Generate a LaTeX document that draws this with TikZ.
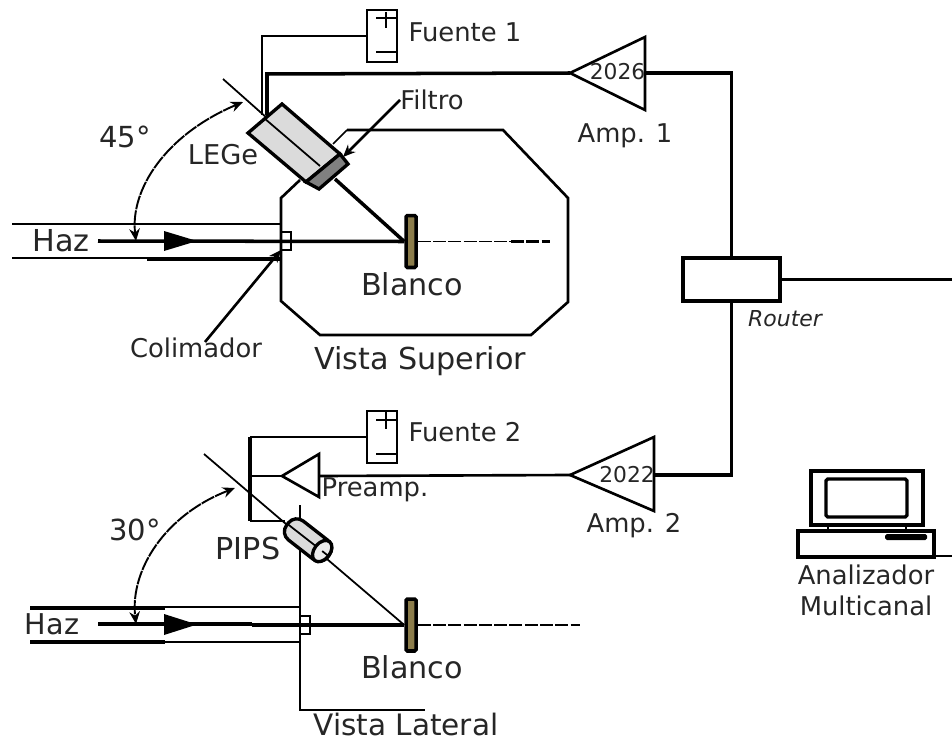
\documentclass[tikz,border=0pt]{standalone}
\usepackage{fontspec}
\setmainfont{DejaVu Sans}
\usetikzlibrary{arrows.meta}
\tikzset{
    thinwire/.style={line width=1pt},
    wire/.style={line width=1.5pt},
    thickwire/.style={line width=2pt},
    lbl/.style={inner sep=0pt,text=black!85,font=\fontsize{14.7}{17}\selectfont},
    biglbl/.style={inner sep=0pt,text=black!85,font=\fontsize{17.2}{20}\selectfont},
    fuentebox/.style={draw,line width=1.3pt,minimum width=0.6cm,minimum height=1.04cm,inner sep=0pt},
    blancobox/.style={draw,line width=2pt,rounded corners=0.8pt,fill=blancocolor,minimum width=0.2cm,minimum height=1.04cm,inner sep=0pt},
    colbox/.style={draw,line width=0.9pt,minimum width=0.2cm,minimum height=0.36cm,inner sep=0pt},
    dashwire/.style={line width=1.1pt,dash pattern=on 7.4pt off 1.3pt},
    anglearrow/.style={<->,line width=1.1pt,dash pattern=on 8pt off 0.6pt}
}
\definecolor{blancocolor}{RGB}{140,125,75}
\begin{document}
\begin{tikzpicture}[x=0.02cm,y=-0.02cm,>={Stealth[length=7pt,width=6pt]}]
    \useasboundingbox (0,0) rectangle (952,740);
    % vista superior
    \draw[wire] (347,130) -- (503,130) -- (568,198) -- (568,302) -- (531,335) -- (320,335) -- (281,301) -- (281,198) -- (300,180);
    \draw[thinwire] (347,130) -- (333,144);
    \draw[wire] (12,224) -- (281,224);
    \draw[wire] (12,258) -- (147,258);
    \draw[thickwire] (147,259) -- (281,259);
    \node[colbox] (col1) at (286,241) {};
    \node[blancobox] (blanco1) at (411,241.5) {};
    \draw[thickwire] (98,241) -- (blanco1.west);
    \fill (164,231) -- (197,241) -- (164,251) -- cycle;
    \draw[dashwire] (blanco1.east) -- (511,241.5);
    \draw[dashwire,line width=1.8pt] (511,241.5) -- (550,241.5);
    \draw[thinwire] (223,79) -- (320,165);
    \draw[thickwire] (335,179) -- (blanco1.west);
    % detector LEGe
    \draw[line width=1.9pt,fill=black!14] (282,104) -- (340,154) -- (306,182) -- (248,133) -- cycle;
    \draw[thinwire] (264,118) -- (320,166);
    \draw[line width=1.9pt,fill=black!50] (340,154) -- (348,164) -- (319,189) -- (306,182) -- cycle;
    % fuente 1 y amp 1
    \node[fuentebox] (fuente1) at (382,36) {};
    \draw[wire] (376,18) -- (396,18) (386,12) -- (386,28);
    \draw[wire] (376,52) -- (396,52);
    \draw[wire] (fuente1.west) -- (262,36) -- (262,115);
    \coordinate (amp1tip) at (570,73);
    \coordinate (amp1end) at (645,73);
    \draw[wire] (amp1tip) -- (645,37) -- (645,110) -- cycle;
    \draw[thickwire] (267,115) -- (267,74) -- (amp1tip);
    \node[lbl,font=\fontsize{12.4}{14}\selectfont] (cod1) at (617.5,72) {2026};
    % router
    \node[draw,line width=2.2pt,minimum width=1.94cm,minimum height=0.86cm,inner sep=0pt] (router) at (731.5,279.5) {};
    \draw[thickwire] (amp1end) -- (731.5,73) -- (router.north);
    \draw[wire] (router.east) -- (952,279.5);
    \node[lbl,font=\itshape\fontsize{12.5}{15}\selectfont] (routerlbl) at (785,319) {Router};
    % vista lateral
    \coordinate (amp2tip) at (570,475);
    \coordinate (amp2end) at (654,475);
    \draw[wire] (amp2tip) -- (654,437) -- (654,511) -- cycle;
    \draw[thickwire] (router.south) -- (731.5,475) -- (amp2end);
    \node[lbl,font=\fontsize{12.4}{14}\selectfont] (cod2) at (627,475) {2022};
    \coordinate (preamptip) at (282,476);
    \draw[wire] (319,454) -- (282,476) -- (319,497) -- cycle;
    \draw[wire] (amp2tip) -- (319,476);
    \node[fuentebox] (fuente2) at (382,437) {};
    \draw[wire] (376,420) -- (396,420) (386,412) -- (386,429);
    \draw[wire] (376,454) -- (396,454);
    \draw[wire] (fuente2.west) -- (250,437);
    \draw[thickwire] (250,437) -- (250,521);
    \draw[wire] (preamptip) -- (250,476);
    \draw[wire] (250,521) -- (285,521);
    \draw[wire] (300,505) -- (300,710) -- (425,710);
    \draw[wire] (30,607) -- (300,607);
    \draw[thickwire] (30,608) -- (165,608);
    \draw[wire] (165,642) -- (300,642);
    \draw[thickwire] (30,642) -- (165,642);
    \node[colbox] (col2) at (305,625) {};
    \node[blancobox] (blanco2) at (411,625) {};
    \draw[thickwire] (98,624) -- (252,624);
    \draw[thickwire] (252,625) -- (blanco2.west);
    \fill (164,614) -- (197,624.5) -- (164,635) -- cycle;
    \draw[dashwire] (blanco2.east) -- (580,625);
    \draw[thinwire] (204,454) -- (blanco2.west);
    % detector PIPS
    \begin{scope}[shift={(308,540)},rotate=-38]
        \draw[line width=1.9pt,fill=black!14,rounded corners=6pt] (-26,-12) rectangle (26,12);
        \draw[thinwire] (-26,0) -- (20,0);
        \draw[line width=1.9pt,fill=black!8] (18,0) ellipse (8 and 12);
        \draw[thinwire] (18,0) -- (26,0);
    \end{scope}
    % analizador
    \draw[line width=1.9pt] (811,471) rectangle (923,525);
    \draw[line width=1.9pt,rounded corners=1pt] (826,479) rectangle (907,517);
    \draw[wire] (828,525) -- (828,531) (906,525) -- (906,531);
    \draw[line width=1.9pt] (798,531) rectangle (934,557);
    \fill[rounded corners=1pt] (885,534) rectangle (927,540);
    \draw[thinwire] (934,556) -- (952,556);
    % angulos
    \draw[anglearrow] (243,102) .. controls (165,135) and (130,190) .. (136,241);
    \draw[anglearrow] (235,488) .. controls (165,515) and (130,570) .. (136,624);
    % flechas de etiquetas
    \node[lbl] (filtro) at (432,100) {Filtro};
    \coordinate (filtrotip) at (343,157);
    \draw[->,wire] (filtro.west) -- (filtrotip);
    \node[lbl] (colimador) at (196,348) {Colimador};
    \coordinate (coltip) at (281,250);
    \draw[->,wire] (205,342) -- (coltip);
    % textos
    \node[biglbl,font=\fontsize{16.5}{20}\selectfont] (ang1) at (125,137) {45°};
    \node[biglbl,font=\fontsize{15.5}{18}\selectfont] (lege) at (223,155) {LEGe};
    \node[biglbl] (haz1) at (61,241) {Haz};
    \node[biglbl] (blancolbl1) at (412,284) {Blanco};
    \node[biglbl] (vistasup) at (420,361) {Vista Superior};
    \node[lbl] (fuente1lbl) at (465,32) {Fuente 1};
    \node[lbl] (amp1) at (625,136) {Amp. 1};
    \node[lbl] (fuente2lbl) at (465,432) {Fuente 2};
    \node[lbl] (preamp) at (375,490) {Preamp.};
    \node[lbl] (amp2) at (634,526) {Amp. 2};
    \node[biglbl,font=\fontsize{16.5}{20}\selectfont] (ang2) at (135,530) {30°};
    \node[biglbl] (pips) at (248,548) {PIPS};
    \node[biglbl,font=\fontsize{16.3}{20}\selectfont] (haz2) at (52,624) {Haz};
    \node[biglbl] (blancolbl2) at (412,667) {Blanco};
    \node[biglbl,font=\fontsize{16.8}{20}\selectfont] (vistalat) at (406,724) {Vista Lateral};
    \node[lbl] (analizador) at (866,575) {Analizador};
    \node[lbl] (multicanal) at (866,606) {Multicanal};
\end{tikzpicture}
\end{document}
